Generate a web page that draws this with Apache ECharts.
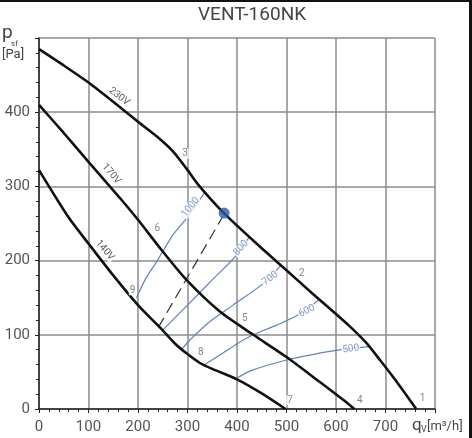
<!DOCTYPE html>
<html>
<head>
<meta charset="utf-8">
<script src="https://cdn.jsdelivr.net/npm/echarts@6/dist/echarts.min.js"></script>
<style>
  html, body { margin: 0; padding: 0; background: #fff; }
  #chart { width: 472px; height: 438px; }
  .edge-top { position: absolute; left: 0; top: 0; width: 472px; height: 2px; background: #111; }
  .edge-right { position: absolute; right: 0; top: 0; width: 3px; height: 438px; background: #111; }
</style>
</head>
<body>
<div id="chart"></div>
<div class="edge-top"></div>
<div class="edge-right"></div>
<script>
// fan curves, [qv m3/h, psf Pa]
const curve230V = [[0, 485], [50, 463], [100, 440], [150, 414], [200, 387], [244, 364], [271, 347], [298, 324], [322, 302], [372, 265], [446, 219], [500, 187], [550, 157], [600, 128], [630, 110], [660, 90], [690, 65], [720, 39], [762, 0]]
const curve170V = [[0, 410], [50, 372], [100, 333], [164, 284], [200, 255], [248, 214], [298, 174], [366, 131], [433, 100], [500, 70], [566, 37], [615, 12], [637, 0]]
const curve140V = [[0, 322], [60, 258], [101, 222], [150, 180], [200, 140], [250, 106], [275, 88], [300, 74], [325, 62], [350, 54], [400, 40], [450, 21], [498, 0]]

// blue iso lines
const line1000 = [[197, 150], [215, 175], [238, 199], [271, 235], [298, 257], [335, 292]]
const line800 = [[251, 107], [300, 140], [350, 174], [396, 205], [425, 232]]
const line700 = [[288, 80], [302, 91], [340, 115], [392, 140], [453, 169], [488, 193]]
const line600 = [[335, 60], [366, 73], [398, 87], [433, 100], [480, 113], [524, 127], [565, 147]]
const line500 = [[398, 41], [430, 52], [500, 66], [550, 73], [600, 79], [667, 84]]
const dashedLine = [[241, 110], [370, 258]]
const workPoint = [[374, 264]]

// annotations
const voltNames = ['230V', '170V', '140V']
const voltPos = [[162, 421], [146, 317], [133, 214]]
const voltRot = [-38, -49, -50]

const isoNames = ['1000', '800', '700', '600', '500']
const isoPos = [[306, 272], [408, 217], [467, 176], [541, 132], [630, 81]]
const isoRot = [51, 48, 37, 27, 7]

const pointNames = ['1', '2', '3', '4', '5', '6', '7', '8', '9']
const pointPos = [[775, 14], [531, 183], [295, 344], [648, 12], [416, 122], [239, 243], [507, 12], [327, 76], [189, 160]]

const xTicks = [0, 100, 200, 300, 400, 500, 600, 700]
const yTicks = [0, 100, 200, 300, 400]

const FONT = 'Roboto, "DejaVu Sans", sans-serif'
const GRID_COLOR = '#8c8c8c'
const BLUE = '#6083bb'

function blackCurve(data) {
  return {
    type: 'line', data, smooth: 0.25, symbol: 'none',
    lineStyle: { color: '#111', width: 2.6 }, z: 5,
  }
}
function blueCurve(data) {
  return {
    type: 'line', data, smooth: 0.25, symbol: 'none',
    lineStyle: { color: BLUE, width: 1.2 }, z: 4,
  }
}
function textSeries(names, pos, rot, color, size) {
  return {
    type: 'scatter',
    symbolSize: 0,
    z: 8,
    data: names.map((n, i) => ({
      value: pos[i],
      label: { formatter: n, rotate: rot ? rot[i] : 0 },
    })),
    label: {
      show: true,
      position: 'inside',
      color,
      fontSize: size,
      fontFamily: FONT,
      backgroundColor: '#fff',
      padding: [0, 1],
      lineHeight: 10,
    },
  }
}

const axisCommon = {
  type: 'value',
  axisLine: { show: true, lineStyle: { color: '#222', width: 1.5 } },
  axisTick: { show: true, length: 4, lineStyle: { color: '#222' } },
  minorTick: { show: true, splitNumber: 5, length: 3, lineStyle: { color: '#222' } },
  splitLine: { show: true, lineStyle: { color: GRID_COLOR, width: 1.5 } },
}

const chart = echarts.init(document.getElementById('chart'))
chart.setOption({
  animation: false,
  title: {
    text: 'VENT-160NK',
    left: 193,
    top: 1,
    textStyle: { fontSize: 19, fontWeight: 'normal', color: '#444', fontFamily: FONT },
  },
  grid: { left: 39, right: 37, top: 38, bottom: 29 },
  xAxis: {
    ...axisCommon,
    min: 0,
    max: 800,
    interval: 100,
    axisLabel: {
      formatter: v => (xTicks.includes(v) ? String(v) : ''),
      color: '#555',
      fontSize: 15,
      margin: 11,
      fontFamily: FONT,
    },
  },
  yAxis: {
    ...axisCommon,
    min: 0,
    max: 500,
    interval: 100,
    axisLabel: {
      formatter: v => (yTicks.includes(v) ? String(v) : ''),
      color: '#555',
      fontSize: 15,
      margin: 9,
      fontFamily: FONT,
    },
  },
  graphic: [
    { type: 'text', left: 2, top: 24, style: { text: 'p', fontSize: 19, fill: '#444', fontFamily: FONT } },
    { type: 'text', left: 11, top: 40, style: { text: 'sf', fontSize: 8, fill: '#444', fontFamily: FONT } },
    { type: 'text', left: 2, top: 48, style: { text: '[Pa]', fontSize: 13, fill: '#444', fontFamily: FONT } },
    { type: 'text', left: 412, top: 417, style: { text: 'q', fontSize: 17, fill: '#444', fontFamily: FONT } },
    { type: 'text', left: 421, top: 425, style: { text: 'V', fontSize: 9, fill: '#444', fontFamily: FONT } },
    { type: 'text', left: 427, top: 420, style: { text: '[m³/h]', fontSize: 13, fill: '#444', fontFamily: FONT } },
  ],
  series: [
    blackCurve(curve230V),
    blackCurve(curve170V),
    blackCurve(curve140V),
    blueCurve(line1000),
    blueCurve(line800),
    blueCurve(line700),
    blueCurve(line600),
    blueCurve(line500),
    {
      type: 'line',
      data: dashedLine,
      symbol: 'none',
      lineStyle: { color: '#333', width: 1.2, type: [11, 6] },
      z: 4,
    },
    {
      type: 'scatter',
      data: workPoint,
      symbolSize: 11,
      itemStyle: { color: '#2a5aa8' },
      z: 10,
    },
    textSeries(voltNames, voltPos, voltRot, '#333', 10),
    textSeries(isoNames, isoPos, isoRot, BLUE, 10),
    textSeries(pointNames, pointPos, null, '#666', 10),
  ],
})
</script>
</body>
</html>
